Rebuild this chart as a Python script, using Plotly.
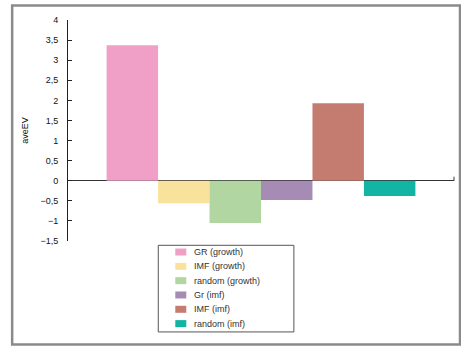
import plotly.graph_objects as go

# Series shown as grouped bars in a single category
series_names = ["GR (growth)", "IMF (growth)", "random (growth)", "Gr (imf)", "IMF (imf)", "random (imf)"]
avg_ev = [3.37, -0.56, -1.05, -0.48, 1.93, -0.38]
bar_colors = ["#F0A0C6", "#F8E29C", "#B2D6A2", "#A68CB4", "#C47C70", "#12B4A4"]
y_ticks = [-1.5, -1, -0.5, 0, 0.5, 1, 1.5, 2, 2.5, 3, 3.5, 4]

W, H = 461, 347
L, R, T, B = 68.3, 454.0, 20.0, 240.7


def px(x):
    return (x - L) / (R - L)


def py(y):
    return (B - y) / (B - T)


fig = go.Figure()
for name, val, col in zip(series_names, avg_ev, bar_colors):
    fig.add_trace(go.Bar(x=["aveEV"], y=[val], name=name, marker=dict(color=col, line=dict(width=0)),
                         showlegend=False))

shapes = []
annotations = []

# outer frame
shapes.append(dict(type="rect", xref="paper", yref="paper",
                   x0=px(12.5), x1=px(460), y0=py(344), y1=py(5.5),
                   line=dict(color="#8a8a8a", width=2.5), fillcolor="rgba(0,0,0,0)", layer="below"))

# small tick at the right end of the category axis
shapes.append(dict(type="line", xref="paper", yref="y", x0=1, x1=1, y0=0, y1=0.1,
                   line=dict(color="#333", width=1)))

# legend box
lx0, lx1, ly0, ly1 = 158.5, 294, 245, 331.5
shapes.append(dict(type="rect", xref="paper", yref="paper",
                   x0=px(lx0), x1=px(lx1), y0=py(ly1), y1=py(ly0),
                   line=dict(color="#555", width=1), fillcolor="white"))
row0, step = 251.7, 14.3
for i, (name, col) in enumerate(zip(series_names, bar_colors)):
    cy = row0 + i * step
    shapes.append(dict(type="rect", xref="paper", yref="paper",
                       x0=px(175.5), x1=px(186.5), y0=py(cy + 3.5), y1=py(cy - 3.5),
                       line=dict(width=0), fillcolor=col))
    annotations.append(dict(xref="paper", yref="paper", x=px(192), y=py(cy), text=name,
                            showarrow=False, xanchor="left", yanchor="middle",
                            font=dict(size=9, color="#333", family="Liberation Sans Narrow, Arial")))

fig.update_layout(
    width=W, height=H,
    margin=dict(l=L, r=W - R, t=T, b=H - B),
    paper_bgcolor="white", plot_bgcolor="white",
    barmode="group", bargap=0.2, bargroupgap=0,
    separators=",.",
    font=dict(family="Liberation Sans, Arial", size=9, color="#111"),
    xaxis=dict(showticklabels=False, showline=False, ticks="", showgrid=False, zeroline=False),
    yaxis=dict(range=[-1.5, 4], tickvals=y_ticks, ticks="inside", ticklen=4, tickcolor="#222",
               showline=True, linecolor="#222", linewidth=1, showgrid=False,
               zeroline=True, zerolinecolor="#333", zerolinewidth=1,
               ticklabelstandoff=7,
               title=dict(text="aveEV", font=dict(size=9, color="#111"), standoff=10),
               tickfont=dict(size=9, color="#111")),
    shapes=shapes,
    annotations=annotations,
)

fig.write_html("out.html")
